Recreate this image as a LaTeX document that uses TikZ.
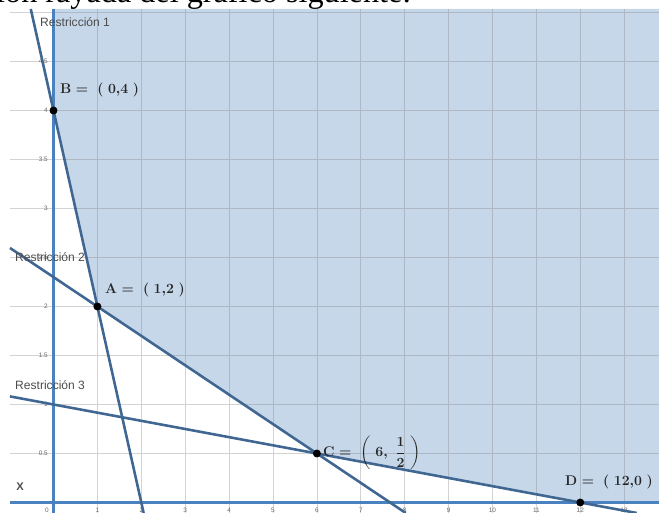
\documentclass[tikz,border=0pt]{standalone}
\usepackage{amsmath,amssymb}
\usepackage{fontspec}
\setsansfont{Liberation Sans}
\newfontfamily\headfont{Liberation Serif}
\usepackage{tikz}
\usetikzlibrary{positioning}

\definecolor{regionfill}{RGB}{198,215,233}
\definecolor{restrline}{RGB}{64,102,146}
\definecolor{axisline}{RGB}{74,130,192}
\definecolor{ticklabel}{RGB}{105,105,105}

\begin{document}
\begin{tikzpicture}[x=1.317cm,y=2.94cm,
    gridline/.style={gray,opacity=0.35,line width=0.6pt},
    axis/.style={axisline,line width=2.6pt},
    restr/.style={restrline,line width=2.2pt},
    vertex/.style={circle,fill=black,inner sep=0pt,minimum size=6.8pt},
    restrlabel/.style={font=\sffamily\fontsize{10.3}{11}\selectfont,text=black!70,inner sep=0pt,anchor=west},
    ticklbl/.style={font=\sffamily\fontsize{5.5}{6}\selectfont,text=ticklabel,inner sep=0pt},
    ptlabel/.style={font=\fontsize{12}{14}\selectfont\boldmath,text=black!85,inner sep=0pt,anchor=west}]
  \useasboundingbox (-1.2187,-0.1071) rectangle (13.793,5.1276);

  % frame of the graph
  \coordinate (frame_sw) at (-0.991,-0.107);
  \coordinate (frame_ne) at (13.793,5.036);
  % vertices
  \coordinate (B) at (0,4);
  \coordinate (A) at (1,2);
  \coordinate (C) at (6,0.5);
  \coordinate (D) at (12,0);
  % ends of the lines
  \coordinate (r1_top) at (-0.518,5.036);
  \coordinate (r1_bot) at (2.0535,-0.107);
  \coordinate (r2_left) at (-0.991,2.597);
  \coordinate (r2_bot) at (8.023,-0.107);
  \coordinate (r3_left) at (-0.991,1.0826);
  \coordinate (r3_bot) at (13.284,-0.107);
  \coordinate (ax_top) at (0,5.036);
  \coordinate (ax_bot) at (0,-0.107);
  \coordinate (ax_left) at (-0.991,0);
  \coordinate (ax_right) at (13.793,0);

  % feasible region
  \fill[regionfill] (ax_top) -- (B) -- (A) -- (C) -- (D) -- (ax_right) -- (frame_ne) -- cycle;
  \draw[gridline,xstep=1,ystep=0.5] (frame_sw) grid (frame_ne);

  % tick labels
  \node[ticklbl] (xt_0) at (-0.148,-0.0765) {0};
  \foreach \tx in {1,...,13}
    \node[ticklbl] (xt_\tx) at (\tx,-0.0765) {\tx};
  \foreach \ty [count=\k] in {0.5,1,1.5,2,2.5,3,3.5,4,4.5}
    \node[ticklbl,anchor=east] (yt_\k) at (-0.125,\ty) {\ty};

  % axes
  \draw[axis] (ax_left) -- (ax_right);
  \draw[axis] (ax_bot) -- (ax_top);

  % restrictions
  \draw[restr] (r1_top) -- (B) -- (A) -- (r1_bot);
  \draw[restr] (r2_left) -- (A) -- (C) -- (r2_bot);
  \draw[restr] (r3_left) -- (C) -- (D) -- (r3_bot);

  \node[restrlabel] (lbl_r1) at (-0.308,4.903) {Restricción 1};
  \node[restrlabel] (lbl_r2) at (-0.877,2.505) {Restricción 2};
  \node[restrlabel] (lbl_r3) at (-0.877,1.199) {Restricción 3};
  \node[font=\sffamily\bfseries\fontsize{9.5}{10}\selectfont,text=black!70] (xmark) at (-0.763,0.158) {X};

  % vertices and their labels
  \node[vertex] (p_B) at (B) {};
  \node[vertex] (p_A) at (A) {};
  \node[vertex] (p_C) at (C) {};
  \node[vertex] (p_D) at (D) {};
  \node[ptlabel] (lbl_B) at (0.148,4.209) {$\mathbf{B} =\ (\ 0{,}4\ )$};
  \node[ptlabel] (lbl_A) at (1.173,2.168) {$\mathbf{A} =\ (\ 1{,}2\ )$};
  \node[ptlabel] (lbl_C) at (6.139,0.505) {$\mathbf{C} =\ \left(\ 6,\ \dfrac{1}{2}\ \right)$};
  \node[ptlabel] (lbl_D) at (11.65,0.209) {$\mathbf{D} =\ (\ 12{,}0\ )$};

  % cut-off line of text above the graph
  \node[font=\headfont\fontsize{27.5}{30}\selectfont,anchor=base west,inner sep=0pt] (heading) at (-1.31,5.097) {ión rayada del gráfico siguiente:};
\end{tikzpicture}
\end{document}
